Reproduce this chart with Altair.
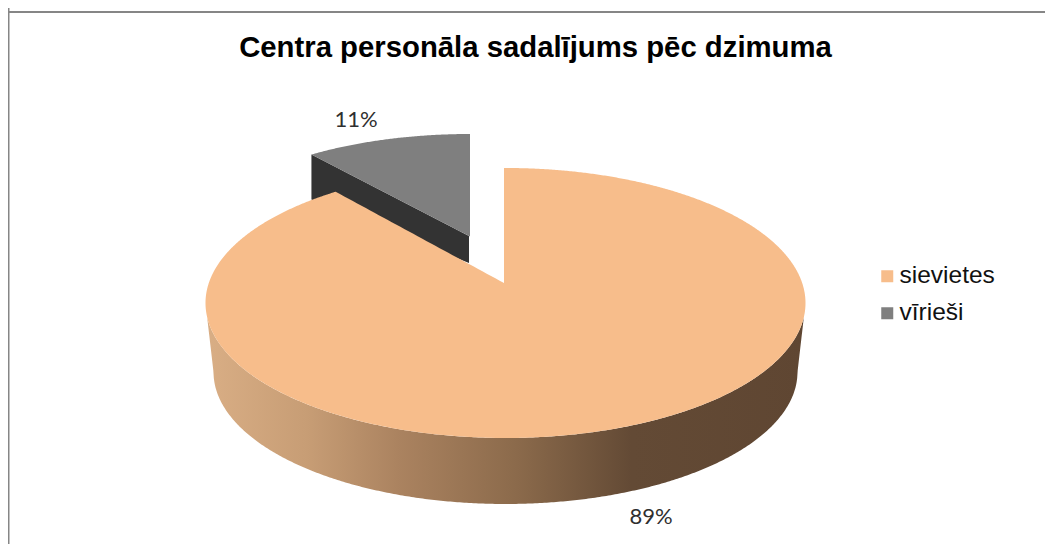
import numpy as np
import pandas as pd
import altair as alt

# ---- chart values
names = ["sievietes", "vīrieši"]
shares = [89, 11]
labels = ["89%", "11%"]
title_text = "Centra personāla sadalījums pēc dzimuma"

colors = ["#f7bd8b", "#7f7f7f"]
wall_dark = "#333333"
border = "#868686"
ink = "#2f2f2f"

# ---- layout (page pixels; the page margin is 8)
W, H = 1037, 536
OX, OY = 8, 8
CX, CY, RX, RY = 505.5, 303.0, 300.0, 135.0   # top face of the main slice
WALL_CY, WALL_RX, WALL_RY = 372.0, 292.0, 132.0   # bottom rim
M_CX, M_CY, M_RX, M_RY = 470.0, 251.0, 280.0, 117.0   # exploded slice
VIEW = 0.871          # perspective squeeze of the small slice's angle
APEX = (504.0, 283.0)
M_APEX = (469.0, 236.0)

def ux(px):
    return (px - CX) / RX

def uy(py):
    return (py - CY) / RX

xscale = alt.Scale(domain=[ux(OX), ux(OX + W)], range=[0, W], nice=False, zero=False)
yscale = alt.Scale(domain=[uy(OY + H), uy(OY)], range=[H, 0], nice=False, zero=False)
X = alt.X("x:Q", axis=None, scale=xscale)
Y = alt.Y("y:Q", axis=None, scale=yscale)
Y2 = alt.Y2("y2:Q")

small = np.radians(360 * shares[1] / sum(shares) * VIEW)

def lower(x, cx, cy, rx, ry):
    return cy + ry * np.sqrt(np.clip(1 - ((x - cx) / rx) ** 2, 0, 1))

def upper(x, cx, cy, rx, ry):
    return cy - ry * np.sqrt(np.clip(1 - ((x - cx) / rx) ** 2, 0, 1))

def frame(px, py, py2, name=None):
    d = pd.DataFrame({"x": ux(px), "y": uy(py), "y2": uy(py2)})
    if name:
        d["group"] = name
    return d

# side wall of the main slice
xs = CX + RX * np.sin(np.linspace(-np.pi / 2, np.pi / 2, 400))
top = lower(xs, CX, CY, RX, RY)
bot = np.maximum(lower(xs, CX, WALL_CY, WALL_RX, WALL_RY), top)
edge = np.abs(xs - CX) > WALL_RX
bot[edge] = CY + (np.abs(xs[edge] - CX) - RX) / (WALL_RX - RX) * (WALL_CY - CY)
bot = np.maximum(bot, top)
wall_df = frame(xs, top, bot)

# top face of the main slice, with the notch of the small slice
nx = CX - RX * np.sin(small)
ny = upper(nx, CX, CY, RX, RY)
left = CX + RX * np.sin(np.linspace(-np.pi / 2, -small, 200))
notch = np.linspace(nx, APEX[0], 40)[1:]
right = CX + RX * np.sin(np.linspace(np.arcsin((APEX[0] + 0.01 - CX) / RX), np.pi / 2, 300))
fx = np.concatenate([left, notch, right])
fy = np.concatenate([
    upper(left, CX, CY, RX, RY),
    ny + (notch - nx) / (APEX[0] - nx) * (APEX[1] - ny),
    upper(right, CX, CY, RX, RY),
])
female_df = frame(fx, fy, lower(fx, CX, CY, RX, RY), names[0])

# exploded small slice
m_left = M_CX - M_RX * np.sin(small)
m_y_left = upper(m_left, M_CX, M_CY, M_RX, M_RY)
mx = M_CX + M_RX * np.sin(np.linspace(-small, 0, 120))
m_line = m_y_left + (mx - m_left) / (M_APEX[0] - m_left) * (M_APEX[1] - m_y_left)
male_df = frame(mx, upper(mx, M_CX, M_CY, M_RX, M_RY), m_line, names[1])

DEPTH_R, DEPTH_L = 27.0, 45.0
wx = np.array([m_left, M_APEX[0]])
wy = np.array([m_y_left, M_APEX[1]])
male_wall_df = frame(wx, wy, wy + np.array([DEPTH_L, DEPTH_R]))

color = alt.Color(
    "group:N",
    scale=alt.Scale(domain=names, range=colors),
    legend=alt.Legend(
        title=None,
        orient="none",
        legendX=875 - OX,
        legendY=264 - OY,
        symbolType="square",
        symbolSize=144,
        symbolStrokeWidth=0,
        labelFont="Liberation Sans",
        labelFontSize=24.5,
        labelColor="#111111",
        labelOffset=0,
        rowPadding=12,
        labelLimit=200,
    ),
)

wall_layer = alt.Chart(wall_df).mark_area(
    color=alt.Gradient(
        gradient="linear",
        x1=0, x2=1, y1=0, y2=0,
        stops=[
            alt.GradientStop(offset=0.0, color="#d9ae85"),
            alt.GradientStop(offset=0.17, color="#c79d75"),
            alt.GradientStop(offset=0.32, color="#ab8360"),
            alt.GradientStop(offset=0.52, color="#8b6a4b"),
            alt.GradientStop(offset=0.71, color="#634a35"),
            alt.GradientStop(offset=1.0, color="#5f4632"),
        ],
    )
).encode(x=X, y=Y, y2=Y2)

male_wall_layer = alt.Chart(male_wall_df).mark_area(color=wall_dark).encode(x=X, y=Y, y2=Y2)
male_layer = alt.Chart(male_df).mark_area().encode(x=X, y=Y, y2=Y2, color=color)
female_layer = alt.Chart(female_df).mark_area().encode(x=X, y=Y, y2=Y2, color=color)

label_df = pd.DataFrame({
    "x": [ux(651), ux(356)],
    "y": [uy(517), uy(120)],
    "label": labels,
})
label_layer = alt.Chart(label_df).mark_text(
    font="Lato", fontSize=22, color=ink, align="center", baseline="middle"
).encode(x=X, y=Y, text="label:N")

left_rule = alt.Chart(pd.DataFrame({"a": [0]})).mark_rule(color=border, strokeWidth=2).encode(
    x=alt.value(0.5), y=alt.value(0), y2=alt.value(H)
)
top_rule = alt.Chart(pd.DataFrame({"a": [0]})).mark_rule(color=border, strokeWidth=2).encode(
    y=alt.value(4), x=alt.value(0), x2=alt.value(W)
)

chart = (
    alt.layer(left_rule, top_rule, wall_layer, male_wall_layer, male_layer, female_layer, label_layer)
    .properties(
        width=W,
        height=H,
        padding=0,
        background="white",
        autosize=alt.AutoSizeParams(type="none"),
        title=alt.TitleParams(
            text=title_text,
            font="Liberation Sans",
            fontSize=29.3,
            fontWeight="bold",
            color="#000000",
            anchor="middle",
            frame="group",
            orient="top",
            baseline="alphabetic",
            offset=-79,
            dx=9,
        ),
    )
    .configure_view(stroke=None)
)

chart.save("out.html", embed_options={"renderer": "svg", "actions": False})
